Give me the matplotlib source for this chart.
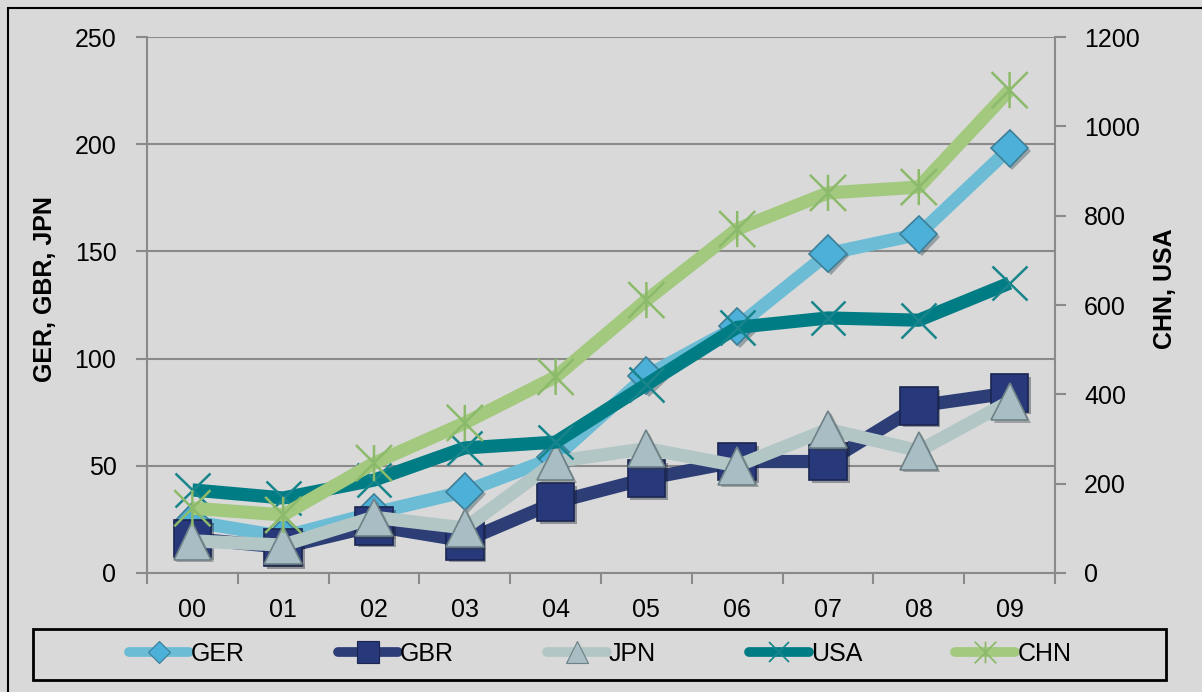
import matplotlib
matplotlib.use("Agg")
import matplotlib.pyplot as plt
import matplotlib.patheffects as pe
from matplotlib.lines import Line2D
from matplotlib.path import Path
from matplotlib.patches import Rectangle
import numpy as np

plt.rcParams['font.family'] = ['Liberation Sans', 'DejaVu Sans']

years = ['00', '01', '02', '03', '04', '05', '06', '07', '08', '09']

# left axis series
ger = [24, 17, 28, 38, 54, 92, 115, 149, 158, 198]
gbr = [16, 12, 22, 15, 33, 44, 52, 52, 78, 84]
jpn = [15, 13, 26, 21, 52, 58, 50, 67, 57, 80]
# right axis series
usa = [186, 168, 208, 280, 293, 422, 550, 571, 566, 649]
chn = [145, 130, 246, 336, 439, 611, 770, 851, 864, 1081]

BG = '#d9d9d9'
GRID = '#8a8a8a'

# asterisk marker: vertical bar plus a cross
star = Path([(0, -1), (0, 1), (-1, -1), (1, 1), (-1, 1), (1, -1)],
            [Path.MOVETO, Path.LINETO] * 3)

styles = {
    'GER': dict(color='#6cbcd6', marker='D', ms=19, mfc='#4cb0d8', mec='#3d7f98', mew=1.2),
    'GBR': dict(color='#2c3e75', marker='s', ms=27, mfc='#27397a', mec='#1a2550', mew=1.2),
    'JPN': dict(color='#b3c6c6', marker='^', ms=27, mfc='#a9bec4', mec='#6e8187', mew=1.2),
    'USA': dict(color='#007c85', marker='x', ms=25, mfc='none', mec='#17858b', mew=1.8),
    'CHN': dict(color='#a2c97e', marker=star, ms=26, mfc='none', mec='#8cba6b', mew=1.8),
}

fig = plt.figure(figsize=(12.02, 6.92), dpi=100, facecolor=BG)
ax = fig.add_axes([147 / 1202, 1 - 573 / 692, (1055 - 147) / 1202, (573 - 37) / 692])
ax.set_facecolor(BG)
ax2 = ax.twinx()

x = np.arange(len(years))
shadow = [pe.SimplePatchShadow(offset=(2, -2), alpha=0.35), pe.Normal()]


def draw(axis, vals, name, z):
    s = styles[name]
    axis.plot(x, vals, color=s['color'], lw=9.5, solid_capstyle='butt',
              solid_joinstyle='round', zorder=z)
    axis.plot(x, vals, ls='none', marker=s['marker'], ms=s['ms'], mfc=s['mfc'],
              mec=s['mec'], mew=s['mew'], zorder=z + 0.5, path_effects=shadow)


draw(ax, ger, 'GER', 3)
draw(ax, gbr, 'GBR', 4)
draw(ax, jpn, 'JPN', 5)
draw(ax2, usa, 'USA', 3)
draw(ax2, chn, 'CHN', 4)

ax.set_xlim(-0.5, 9.5)
ax.set_ylim(0, 250)
ax2.set_ylim(0, 1200)
ax.set_yticks(np.arange(0, 251, 50))
ax2.set_yticks(np.arange(0, 1201, 200))

# ticks at category boundaries, labels at centres
ax.set_xticks(np.arange(-0.5, 10, 1))
ax.set_xticklabels([])
ax.set_xticks(x, minor=True)
ax.set_xticklabels(years, minor=True)
ax.tick_params(axis='x', which='major', direction='out', length=8, width=1.5, color=GRID)
ax.tick_params(axis='x', which='minor', length=0, pad=18, labelsize=18)
ax.tick_params(axis='y', direction='out', length=8, width=1.5, color=GRID, pad=14, labelsize=18)
ax2.tick_params(axis='y', direction='out', length=8, width=1.5, color=GRID, pad=13, labelsize=18)

ax.yaxis.grid(True, color=GRID, lw=1.5)
ax.set_axisbelow(True)

for sp in ['top', 'right']:
    ax.spines[sp].set_visible(False)
for sp in ['left', 'bottom']:
    ax.spines[sp].set_color(GRID)
    ax.spines[sp].set_linewidth(1.5)
for sp in ['top', 'left', 'bottom']:
    ax2.spines[sp].set_visible(False)
ax2.spines['right'].set_color(GRID)
ax2.spines['right'].set_linewidth(1.5)

fig.text(45 / 1202, 1 - 289 / 692, 'GER, GBR, JPN', rotation=90, fontsize=18,
         fontweight='bold', ha='center', va='center')
fig.text(1165 / 1202, 1 - 289 / 692, 'CHN, USA', rotation=90, fontsize=18,
         fontweight='bold', ha='center', va='center')

# legend
handles = []
for name in ['GER', 'GBR', 'JPN', 'USA', 'CHN']:
    s = styles[name]
    handles.append(Line2D([], [], color=s['color'], lw=7, marker=s['marker'],
                          ms=s['ms'] * 0.6, mfc=s['mfc'], mec=s['mec'], mew=s['mew'] * 0.7,
                          solid_capstyle='round'))
leg = fig.legend(handles, ['GER', 'GBR', 'JPN', 'USA', 'CHN'], ncol=5,
                 loc='center', bbox_to_anchor=(600 / 1202, 1 - 654 / 692),
                 fontsize=18, frameon=False, handlelength=2.4, handletextpad=0.1,
                 columnspacing=3.7)
fig.add_artist(Rectangle((33 / 1202, 1 - 680 / 692), (1166 - 33) / 1202, 51 / 692,
                         transform=fig.transFigure, fill=False, ec='black', lw=2))

# outer frame (runs past the right and bottom edges)
fig.add_artist(Rectangle((8 / 1202, -0.05), 1.2, 1.05 - 8 / 692 + 0.0,
                         transform=fig.transFigure, fill=False, ec='black', lw=1.5))

fig.savefig('out.png', dpi=100, facecolor=BG)
